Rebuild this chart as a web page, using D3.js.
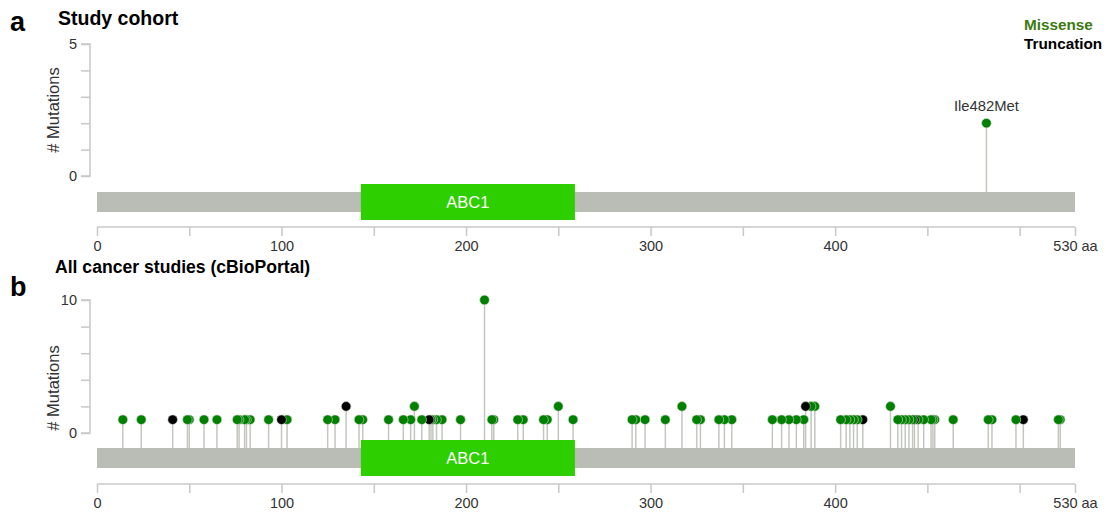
<!DOCTYPE html>
<html>
<head>
<meta charset="utf-8">
<script src="https://cdn.jsdelivr.net/npm/d3@7"></script>
<style>
    body { margin: 0; background: #fff; font-family: Helvetica, Arial, "Liberation Sans", sans-serif; }
    .axis path, .axis line { stroke: #c8c8c8; stroke-width: 1.5; }
    .axis text { fill: #333; font-size: 14.5px; font-family: Helvetica, Arial, "Liberation Sans", sans-serif; }
</style>
</head>
<body>
<div id="chart"></div>
<script>
// protein
const proteinLength = 530;
const domainName = 'ABC1';
const domainStart = 143;
const domainEnd = 259;

// x ticks
const xTickValues = [0, 50, 100, 150, 200, 250, 300, 350, 400, 450, 500, 530];
const xTickLabels = { 0: '0', 100: '100', 200: '200', 300: '300', 400: '400', 530: '530 aa' };

// panel a: study cohort
const cohortPositions = [482];
const cohortCounts = [2];
const cohortTypes = ['Missense'];
const cohortLabels = ['Ile482Met'];

// panel b: all cancer studies (cBioPortal)
const cbioPositions = [
    14, 24, 41, 49, 50, 58, 65, 76, 77, 80, 81, 83,
    93, 100, 103, 125, 129, 135, 142, 144, 158, 166, 170, 172,
    176, 180, 181, 182, 184, 187, 197, 210, 214, 215, 228, 231, 242, 244, 250, 258,
    290, 292, 297, 308, 317, 325, 327, 337, 340, 344,
    366, 371, 375, 379, 383, 384, 387, 389, 403, 406, 408, 410, 412, 415,
    430, 434, 436, 438, 440, 442, 443, 445, 448, 452, 453, 454,
    464, 483, 485, 498, 502, 521, 522
];
const cbioCounts = [
    1, 1, 1, 1, 1, 1, 1, 1, 1, 1, 1, 1,
    1, 1, 1, 1, 1, 2, 1, 1, 1, 1, 1, 2,
    1, 1, 1, 1, 1, 1, 1, 10, 1, 1, 1, 1, 1, 1, 2, 1,
    1, 1, 1, 1, 2, 1, 1, 1, 1, 1,
    1, 1, 1, 1, 1, 2, 2, 2, 1, 1, 1, 1, 1, 1,
    2, 1, 1, 1, 1, 1, 1, 1, 1, 1, 1, 1,
    1, 1, 1, 1, 1, 1, 1
];
const cbioTruncating = [41, 100, 135, 180, 384, 415, 443, 502];

const typeColors = { Missense: '#008000', Truncation: '#000000' };
const legendItems = ['Missense', 'Truncation'];
const legendColors = ['#3c7a12', '#000000'];

const width = 1110;
const height = 517;

const svg = d3.select('#chart')
    .append('svg')
    .attr('width', width)
    .attr('height', height);

const xScale = d3.scaleLinear().domain([0, proteinLength]).range([97, 1075]);

const font = 'Helvetica, Arial, "Liberation Sans", sans-serif';

function drawPanel(opts) {
    const g = svg.append('g');
    const yScale = d3.scaleLinear().domain([0, opts.yMax]).range([opts.yZero, opts.yTop]);

    // panel letter + title
    g.append('text')
        .attr('x', 10).attr('y', opts.letterY)
        .attr('font-size', 27).attr('font-weight', 'bold').attr('font-family', font)
        .text(opts.letter);
    g.append('text')
        .attr('x', opts.titleX).attr('y', opts.titleY)
        .attr('font-size', opts.titleSize).attr('font-weight', 'bold').attr('font-family', font)
        .text(opts.title);

    // y axis
    const yAxis = d3.axisLeft(yScale)
        .tickValues(opts.yTicks)
        .tickSize(9)
        .tickPadding(4)
        .tickFormat(d => (d === 0 || d === opts.yMax) ? d : '');
    g.append('g')
        .attr('class', 'axis')
        .attr('transform', 'translate(90,0)')
        .call(yAxis)
        .call(a => a.select('.domain').attr('d', `M-9,${yScale(opts.yMax)}H0V${yScale(0)}H-9`))
        .call(a => a.selectAll('text').attr('fill', '#444'));

    g.append('text')
        .attr('transform', `translate(59,${opts.yLabelY}) rotate(-90)`)
        .attr('text-anchor', 'middle')
        .attr('font-size', 16.5).attr('font-family', font).attr('fill', '#333')
        .text('# Mutations');

    // x axis
    const xAxis = d3.axisBottom(xScale)
        .tickValues(xTickValues)
        .tickSize(9)
        .tickPadding(5)
        .tickFormat(d => xTickLabels[d] || '');
    g.append('g')
        .attr('class', 'axis')
        .attr('transform', `translate(0,${opts.xAxisY})`)
        .call(xAxis)
        .call(a => a.select('.domain').attr('d', `M${xScale(0)},0H${xScale(proteinLength)}`));

    // stems
    const data = opts.positions.map((p, i) => ({ pos: p, count: opts.counts[i], type: opts.types[i], label: opts.labels ? opts.labels[i] : null }));
    data.sort((a, b) => b.pos - a.pos);

    g.selectAll('.stem')
        .data(data)
        .enter().append('line')
        .attr('class', 'stem')
        .attr('x1', d => xScale(d.pos))
        .attr('x2', d => xScale(d.pos))
        .attr('y1', d => yScale(d.count))
        .attr('y2', opts.barY + 2)
        .attr('stroke', '#c4c6c0')
        .attr('stroke-width', 1.5);

    // protein bar
    g.append('rect')
        .attr('x', xScale(0)).attr('y', opts.barY)
        .attr('width', xScale(proteinLength) - xScale(0)).attr('height', 20)
        .attr('fill', '#babdb6');

    g.append('rect')
        .attr('x', xScale(domainStart)).attr('y', opts.barY - 8)
        .attr('width', xScale(domainEnd) - xScale(domainStart)).attr('height', 36)
        .attr('fill', '#2ecf00');

    g.append('text')
        .attr('x', (xScale(domainStart) + xScale(domainEnd)) / 2)
        .attr('y', opts.barY + 16)
        .attr('text-anchor', 'middle')
        .attr('font-size', 16.5).attr('font-family', font).attr('fill', '#fff')
        .text(domainName);

    // heads
    g.selectAll('.head')
        .data(data)
        .enter().append('circle')
        .attr('class', 'head')
        .attr('cx', d => xScale(d.pos))
        .attr('cy', d => yScale(d.count))
        .attr('r', 4.8)
        .attr('fill', d => typeColors[d.type])
        .attr('stroke', '#d8d8d4')
        .attr('stroke-width', 0.6);

    g.selectAll('.mlabel')
        .data(data.filter(d => d.label))
        .enter().append('text')
        .attr('class', 'mlabel')
        .attr('x', d => xScale(d.pos))
        .attr('y', d => yScale(d.count) - 12)
        .attr('text-anchor', 'middle')
        .attr('font-size', 14.8).attr('font-family', font).attr('fill', '#333')
        .text(d => d.label);
}

drawPanel({
    letter: 'a', letterY: 31, title: 'Study cohort', titleX: 58, titleY: 25, titleSize: 19.5,
    yMax: 5, yTicks: [0, 1, 2, 3, 4, 5], yZero: 176, yTop: 44, yLabelY: 110,
    barY: 192, xAxisY: 227,
    positions: cohortPositions, counts: cohortCounts, types: cohortTypes, labels: cohortLabels
});

drawPanel({
    letter: 'b', letterY: 296, title: 'All cancer studies (cBioPortal)', titleX: 55, titleY: 273, titleSize: 17.6,
    yMax: 10, yTicks: [0, 2, 4, 6, 8, 10], yZero: 433, yTop: 300, yLabelY: 388,
    barY: 448, xAxisY: 484,
    positions: cbioPositions, counts: cbioCounts,
    types: cbioPositions.map(p => cbioTruncating.includes(p) ? 'Truncation' : 'Missense')
});

// legend
svg.selectAll('.legend')
    .data(legendItems)
    .enter().append('text')
    .attr('class', 'legend')
    .attr('x', 1024)
    .attr('y', (d, i) => 30 + i * 19)
    .attr('font-size', 15.3).attr('font-weight', 'bold').attr('font-family', font)
    .attr('fill', (d, i) => legendColors[i])
    .text(d => d);
</script>
</body>
</html>
